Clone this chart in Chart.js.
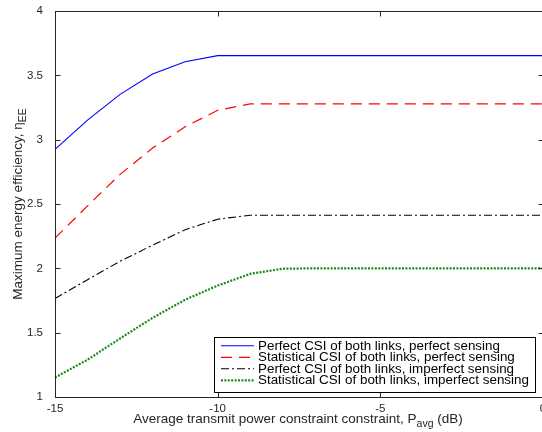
<!DOCTYPE html>
<html>
<head>
<meta charset="utf-8">
<script src="https://cdn.jsdelivr.net/npm/chart.js@4.4.0/dist/chart.umd.min.js"></script>
<style>
  html, body { margin: 0; padding: 0; background: #fff; overflow: hidden; }
  #wrap { width: 548px; height: 432px; }
</style>
</head>
<body>
<div id="wrap"><canvas id="ee" width="548" height="432"></canvas></div>
<script>
// transmit power constraint, dB
var pAvg = [-15, -14, -13, -12, -11, -10, -9, -8, -7, -6, -5, -4, -3, -2, -1, 0];

var perfBothPerfSens = [2.925, 3.152, 3.352, 3.51, 3.605, 3.653, 3.653, 3.653, 3.653, 3.653, 3.653, 3.653, 3.653, 3.653, 3.653, 3.653];
var statBothPerfSens = [2.235, 2.485, 2.73, 2.935, 3.10, 3.228, 3.278, 3.278, 3.278, 3.278, 3.278, 3.278, 3.278, 3.278, 3.278, 3.278];
var perfBothImpSens = [1.766, 1.912, 2.055, 2.18, 2.30, 2.382, 2.413, 2.413, 2.413, 2.413, 2.413, 2.413, 2.413, 2.413, 2.413, 2.413];
var statBothImpSens = [1.151, 1.29, 1.455, 1.615, 1.756, 1.866, 1.957, 1.997, 2.0, 2.0, 2.0, 2.0, 2.0, 2.0, 2.0, 2.0];

var legendLabels = [
  "Perfect CSI of both links, perfect sensing",
  "Statistical CSI of both links, perfect sensing",
  "Perfect CSI of both links, imperfect sensing",
  "Statistical CSI of both links, imperfect sensing"
];

var xTicks = [-15, -10, -5, 0];
var yTicks = [1, 1.5, 2, 2.5, 3, 3.5, 4];

var FONT = "'Liberation Sans', Arial, Helvetica, sans-serif";
var AXIS_COLOR = "#262626";

function pts(ys) {
  var out = [];
  for (var i = 0; i < pAvg.length; i++) out.push({x: pAvg[i], y: ys[i]});
  return out;
}

// box around the axes with inward ticks on all four sides
var boxPlugin = {
  id: 'box',
  afterDatasetsDraw: function(chart) {
    var c = chart.ctx, a = chart.chartArea;
    var xs = chart.scales.x, ys = chart.scales.y;
    var L = Math.round(a.left) + 0.5, R = Math.round(a.right) + 0.5;
    var T = Math.round(a.top) + 0.5, B = Math.round(a.bottom) + 0.5;
    c.save();
    c.strokeStyle = AXIS_COLOR;
    c.lineWidth = 1;
    c.setLineDash([]);
    c.strokeRect(L, T, R - L, B - T);
    c.beginPath();
    xTicks.forEach(function(v) {
      var px = Math.round(xs.getPixelForValue(v)) + 0.5;
      c.moveTo(px, B); c.lineTo(px, B - 5);
      c.moveTo(px, T); c.lineTo(px, T + 5);
    });
    yTicks.forEach(function(v) {
      var py = Math.round(ys.getPixelForValue(v)) + 0.5;
      c.moveTo(L, py); c.lineTo(L + 5, py);
      c.moveTo(R, py); c.lineTo(R - 5, py);
    });
    c.stroke();
    c.restore();
  }
};

// legend box in the lower right of the axes
var legendPlugin = {
  id: 'boxLegend',
  afterDraw: function(chart) {
    var c = chart.ctx;
    var left = 214.5, top = 337.5, right = 535.5, bottom = 392.5;
    c.save();
    c.fillStyle = '#fff';
    c.fillRect(left, top, right - left, bottom - top);
    c.strokeStyle = '#000';
    c.lineWidth = 1;
    c.setLineDash([]);
    c.strokeRect(left, top, right - left, bottom - top);
    c.font = '13.4px ' + FONT;
    c.textBaseline = 'middle';
    chart.data.datasets.forEach(function(ds, i) {
      var y = 345.8 + i * 11.5;
      c.strokeStyle = ds.borderColor;
      c.lineWidth = ds.borderWidth;
      c.setLineDash(ds.borderDash || []);
      c.beginPath();
      c.moveTo(221, y); c.lineTo(254, y);
      c.stroke();
      c.fillStyle = '#000';
      c.fillText(ds.label, 258, y + 0.5);
    });
    c.restore();
  }
};

// axis titles with subscripts
var titlePlugin = {
  id: 'titles',
  afterDraw: function(chart) {
    var c = chart.ctx, a = chart.chartArea;
    c.save();
    c.fillStyle = AXIS_COLOR;
    c.textBaseline = 'alphabetic';

    function drawParts(parts, cx, base) {
      var w = 0;
      parts.forEach(function(p) { c.font = p.size + 'px ' + FONT; w += c.measureText(p.t).width; });
      var x = cx - w / 2;
      parts.forEach(function(p) {
        c.font = p.size + 'px ' + FONT;
        c.fillText(p.t, x, base + (p.dy || 0));
        x += c.measureText(p.t).width;
      });
    }

    drawParts([
      {t: 'Average transmit power constraint constraint, P', size: 13.5},
      {t: 'avg', size: 10.5, dy: 4},
      {t: ' (dB)', size: 13.5}
    ], 298, 423);

    c.translate(22, (a.top + a.bottom) / 2);
    c.rotate(-Math.PI / 2);
    drawParts([
      {t: 'Maximum energy efficiency, \u03b7', size: 13.5},
      {t: 'EE', size: 10.5, dy: 4}
    ], 0, 0);
    c.restore();
  }
};

var ctx = document.getElementById('ee');
var chart = new Chart(ctx, {
  type: 'line',
  data: {
    datasets: [
      { label: legendLabels[0], data: pts(perfBothPerfSens), borderColor: '#0000ff', borderWidth: 1.1 },
      { label: legendLabels[1], data: pts(statBothPerfSens), borderColor: '#ff0000', borderWidth: 1.2, borderDash: [11, 7] },
      { label: legendLabels[2], data: pts(perfBothImpSens), borderColor: '#000000', borderWidth: 1.1, borderDash: [8, 3, 2, 3] },
      { label: legendLabels[3], data: pts(statBothImpSens), borderColor: '#1b8a1b', borderWidth: 2.2, borderDash: [2, 1.4] }
    ]
  },
  options: {
    responsive: false,
    animation: false,
    clip: false,
    layout: { padding: { left: 0, top: 11, right: 5, bottom: 0 } },
    elements: { point: { radius: 0 }, line: { tension: 0, fill: false } },
    plugins: { legend: { display: false }, tooltip: { enabled: false } },
    scales: {
      x: {
        type: 'linear', min: -15, max: 0,
        afterFit: function(s) { s.height = 35; },
        afterBuildTicks: function(s) { s.ticks = xTicks.map(function(v) { return {value: v}; }); },
        grid: { display: false }, border: { display: false },
        ticks: { font: { size: 11.5, family: FONT }, color: AXIS_COLOR, padding: -3, maxRotation: 0,
                 callback: function(v) { return String(v); } }
      },
      y: {
        type: 'linear', min: 1, max: 4,
        afterFit: function(s) { s.width = 55; },
        afterBuildTicks: function(s) { s.ticks = yTicks.map(function(v) { return {value: v}; }); },
        grid: { display: false }, border: { display: false },
        ticks: { font: { size: 11.5, family: FONT }, color: AXIS_COLOR, padding: 4,
                 callback: function(v) { return String(v); } }
      }
    }
  },
  plugins: [boxPlugin, legendPlugin, titlePlugin]
});
</script>
</body>
</html>
